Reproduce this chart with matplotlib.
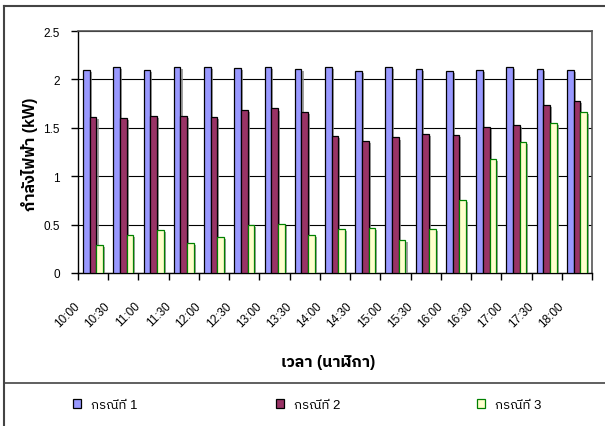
import matplotlib
matplotlib.use("Agg")
import matplotlib.pyplot as plt
import matplotlib.patheffects as pe
from matplotlib import font_manager as fm
from matplotlib.ft2font import FT2Font
from matplotlib.lines import Line2D
from matplotlib.patches import Patch
import matplotlib.transforms as mtransforms
import numpy as np

# ---- data ----
times = ["10:00", "10:30", "11:00", "11:30", "12:00", "12:30", "13:00", "13:30",
         "14:00", "14:30", "15:00", "15:30", "16:00", "16:30", "17:00", "17:30", "18:00"]
case1 = [2.10, 2.125, 2.10, 2.125, 2.125, 2.115, 2.125, 2.11,
         2.125, 2.09, 2.125, 2.11, 2.09, 2.10, 2.125, 2.11, 2.10]
case2 = [1.61, 1.60, 1.62, 1.62, 1.61, 1.687, 1.70, 1.66,
         1.415, 1.36, 1.40, 1.44, 1.425, 1.505, 1.53, 1.735, 1.777]
case3 = [0.285, 0.39, 0.44, 0.31, 0.375, 0.496, 0.51, 0.39,
         0.455, 0.468, 0.338, 0.455, 0.754, 1.178, 1.35, 1.546, 1.66]
series_labels = ["กรณีที่ 1", "กรณีที่ 2", "กรณีที่ 3"]
y_ticks = [0, 0.5, 1, 1.5, 2, 2.5]
y_ticklabels = ["0", "0.5", "1", "1.5", "2", "2.5"]
y_title = "กำลังไฟฟ้า (kW)"
x_title = "เวลา (นาฬิกา)"


def find_thai_family():
    names = []
    for f in fm.fontManager.ttflist:
        try:
            cmap = FT2Font(f.fname).get_charmap()
        except Exception:
            continue
        if 0x0E01 in cmap and 0x0E33 in cmap and 0x0E49 in cmap:
            if f.name not in names:
                names.append(f.name)
    names.sort(key=lambda n: (0 if "Thai" in n else 1, n))
    return names[0] if names else None


thai = find_thai_family()
families = ["Liberation Sans"] + ([thai] if thai else []) + ["DejaVu Sans"]
plt.rcParams["font.family"] = families

W, H = 605, 427
fig = plt.figure(figsize=(W / 100, H / 100), dpi=100)
fig.patch.set_facecolor("white")

left, right, top, bottom = 78, 592, 32, 274
ax = fig.add_axes([left / W, 1 - bottom / H, (right - left) / W, (bottom - top) / H])

x = np.arange(len(times))
bw = 0.22
shadow = [pe.SimplePatchShadow(offset=(1.5, -1.5), shadow_rgbFace="#8a8a8a", alpha=0.8), pe.Normal()]
colors = [("#9999FF", "black"), ("#993366", "black"), ("#FFFFCC", "#008000")]
for i, (vals, (fc, ec)) in enumerate(zip([case1, case2, case3], colors)):
    bars = ax.bar(x + (i - 1) * bw, vals, width=bw, color=fc, edgecolor=ec,
                  linewidth=0.9, zorder=3)
    for b in bars:
        b.set_path_effects(shadow)

ax.set_xlim(-0.5, len(times) - 0.5)
ax.set_ylim(0, 2.5)
ax.set_yticks(y_ticks)
ax.set_yticklabels(y_ticklabels, fontsize=8.5)
ax.yaxis.grid(True, color="black", linewidth=0.8, zorder=0)
ax.set_axisbelow(True)

# category boundary tick marks, labels at centres
ax.set_xticks(np.arange(len(times) + 1) - 0.5, minor=True)
ax.set_xticks(x)
ax.set_xticklabels(times, fontsize=8.5, rotation=45, ha="right", va="center",
                   rotation_mode="anchor")
ax.tick_params(axis="x", which="major", length=0, pad=22)
ax.tick_params(axis="x", which="minor", length=5, width=1, direction="out")
ax.tick_params(axis="y", length=5, width=1, direction="out", pad=8)
shift = mtransforms.ScaledTranslation(-15 / 100, 0, fig.dpi_scale_trans)
for lab in ax.get_xticklabels():
    lab.set_transform(lab.get_transform() + shift)

for side in ["left", "bottom"]:
    ax.spines[side].set_color("black")
    ax.spines[side].set_linewidth(1)
for side in ["top", "right"]:
    ax.spines[side].set_color("#555555")
    ax.spines[side].set_linewidth(1.2)

fig.text(29 / W, 1 - 154 / H, y_title, rotation=90, ha="center", va="center",
         fontsize=11.5, fontweight="bold")
fig.text(328 / W, 1 - 363 / H, x_title, ha="center", va="center",
         fontsize=11.5, fontweight="bold")

# chart border and legend separator
lc = "#444444"
fig.add_artist(Line2D([4 / W, 1], [1 - 7 / H, 1 - 7 / H], color=lc, linewidth=1.5))
fig.add_artist(Line2D([4 / W, 4 / W], [0, 1 - 7 / H], color=lc, linewidth=1.5))
fig.add_artist(Line2D([4 / W, 1], [1 - 384 / H, 1 - 384 / H], color=lc, linewidth=1.2))

# legend entries
leg_x = [73, 276, 477]
for (fc, ec), lab, lx in zip(colors, series_labels, leg_x):
    h = Patch(facecolor=fc, edgecolor=ec, linewidth=0.9)
    fig.legend(handles=[h], labels=[lab], loc="center left",
               bbox_to_anchor=(lx / W, 1 - 406 / H), frameon=False,
               fontsize=9.5, borderpad=0, borderaxespad=0,
               handlelength=0.62, handleheight=0.62, handletextpad=0.75)

fig.savefig("out.png", dpi=100, facecolor="white")
